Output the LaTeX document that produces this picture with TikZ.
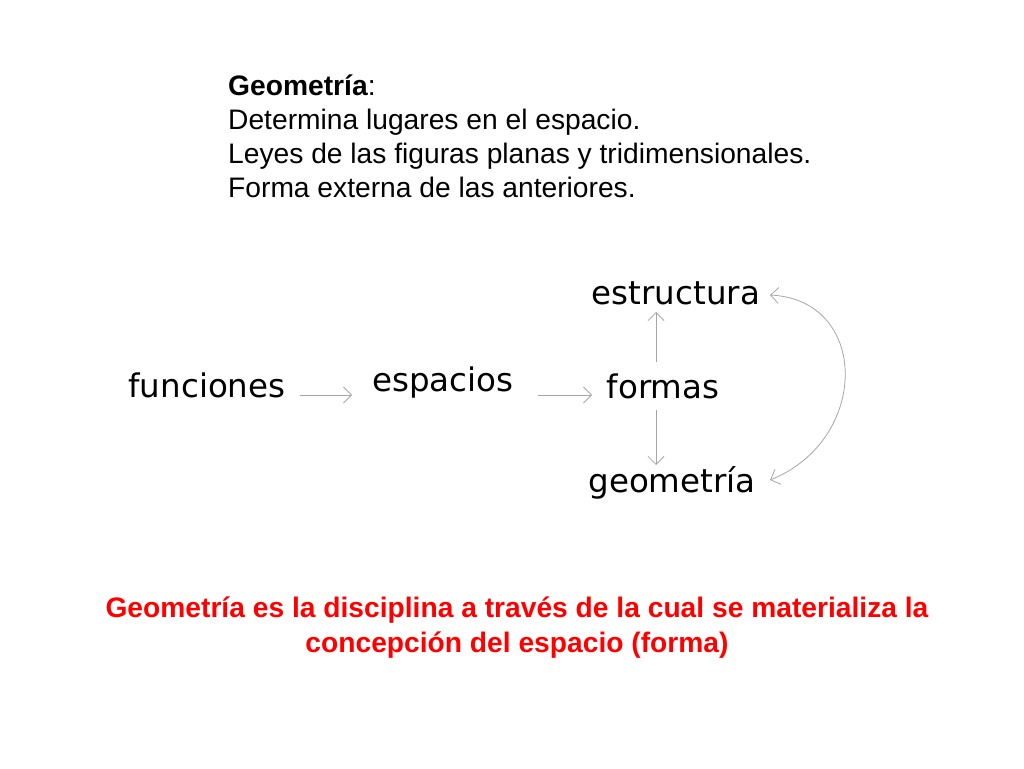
\documentclass[tikz,border=0pt]{standalone}
\usepackage{fontspec}
\setmainfont{Liberation Sans}
\newfontfamily\dv{DejaVu Sans}
\usetikzlibrary{arrows.meta}
\begin{document}
\begin{tikzpicture}[x=1pt,y=-1pt,
  word/.style={font=\dv\fontsize{32.5}{38}\selectfont},
  conn/.style={draw=gray!70,line width=0.8pt,-{Straight Barb[length=8pt,width=16pt]}}]
\useasboundingbox (0,0) rectangle (1024,768);
\node[anchor=north west,align=left,font=\fontsize{28.2}{34}\selectfont,inner sep=0] (t) at (228,75)
 {\textbf{Geometría}:\\Determina lugares en el espacio.\\Leyes de las figuras planas y tridimensionales.\\Forma externa de las anteriores.};
\node[word] (fun) at (207,385) {funciones};
\node[word] (esp) at (443,383) {espacios};
\node[word] (for) at (663,386) {formas};
\node[word] (est) at (676,293) {estructura};
\node[word] (geo) at (672,483) {geometría};
\coordinate (a1) at (300,395); \coordinate (a2) at (352,395);
\coordinate (b1) at (538,395); \coordinate (b2) at (592,395);
\coordinate (c1) at (656,362); \coordinate (c2) at (656,312);
\coordinate (d1) at (656,410); \coordinate (d2) at (656,465);
\coordinate (e1) at (770,480); \coordinate (e2) at (770,295);
\draw[conn] (a1) -- (a2);
\draw[conn] (b1) -- (b2);
\draw[conn] (c1) -- (c2);
\draw[conn] (d1) -- (d2);
\draw[conn,{Straight Barb[length=8pt,width=16pt]}-{Straight Barb[length=8pt,width=16pt]}] (e1) .. controls (870,440) and (870,300) .. (e2);
\node[text=red,align=center,font=\bfseries\fontsize{28.2}{35}\selectfont] (r) at (517,628)
 {Geometría es la disciplina a través de la cual se materializa la\\concepción del espacio (forma)};
\end{tikzpicture}
\end{document}
